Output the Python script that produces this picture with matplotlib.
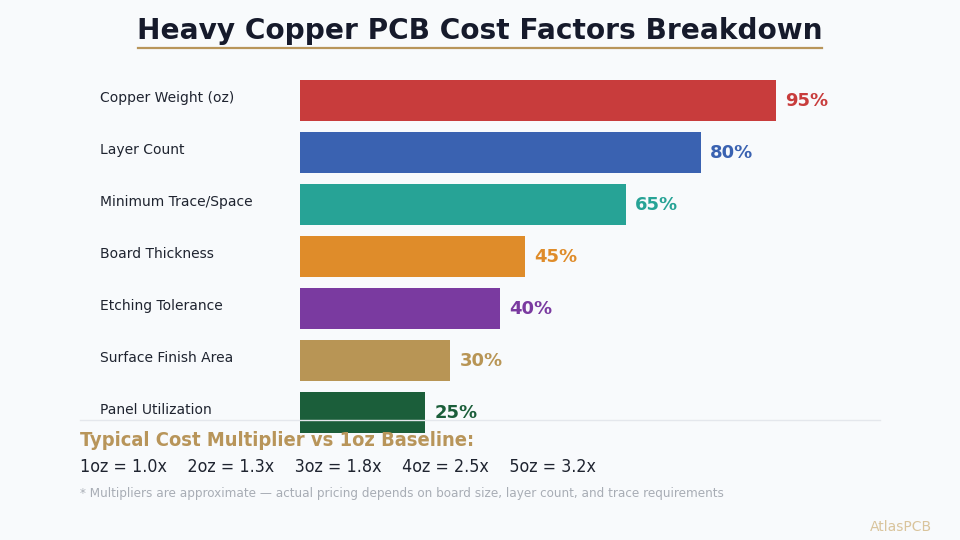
import matplotlib
matplotlib.use("Agg")
import matplotlib.pyplot as plt
from matplotlib.transforms import blended_transform_factory
from matplotlib.lines import Line2D

categories = ["Copper Weight (oz)", "Layer Count", "Minimum Trace/Space",
              "Board Thickness", "Etching Tolerance", "Surface Finish Area",
              "Panel Utilization"]
values = [95, 80, 65, 45, 40, 30, 25]
colors = ["#c83c3c", "#3a62b1", "#27a396", "#df8c2a", "#7a3aa0", "#b89555", "#1b5e3a"]
multipliers = ["1oz = 1.0x", "2oz = 1.3x", "3oz = 1.8x", "4oz = 2.5x", "5oz = 3.2x"]

W, H = 960, 540
bg = "#f8fafc"
gold = "#b8955a"

fig = plt.figure(figsize=(W / 100, H / 100), dpi=100, facecolor=bg)

def fx(px):
    return px / W

def fy(py):
    return 1 - py / H

ax = fig.add_axes([fx(300), fy(438.5), fx(801) - fx(300), (438.5 - 74.5) / H])
ax.set_facecolor("none")
ypos = list(range(len(categories)))
ax.barh(ypos, values, height=0.79, color=colors, zorder=2)
ax.set_xlim(0, 100)
ax.set_ylim(len(categories) - 0.5, -0.5)
ax.axis("off")

trans = blended_transform_factory(fig.transFigure, ax.transData)
for y, cat, v, c in zip(ypos, categories, values, colors):
    ax.text(fx(100), y - 0.04, cat, transform=trans, ha="left", va="center",
            fontsize=10, color="#1f2430")
    ax.annotate(f"{v}%", xy=(v, y), xytext=(6.5, 0), textcoords="offset points",
                ha="left", va="center", fontsize=13, fontweight="bold", color=c)

# Title
fig.text(0.5, fy(31), "Heavy Copper PCB Cost Factors Breakdown", ha="center", va="center",
         fontsize=20.2, fontweight="bold", color="#161a2b")
fig.add_artist(Line2D([fx(138), fx(822)], [fy(48), fy(48)], color=gold, lw=1.6))

# Separator
fig.add_artist(Line2D([fx(80), fx(880)], [fy(420), fy(420)], color="#e4e7ec", lw=1.0, zorder=5))

fig.text(fx(80), fy(441), "Typical Cost Multiplier vs 1oz Baseline:", ha="left", va="center",
         fontsize=14.4, fontweight="bold", color=gold, stretch="condensed")
fig.text(fx(80), fy(467), "    ".join(multipliers), ha="left", va="center",
         fontsize=12.8, color="#1f2430", stretch="condensed")
fig.text(fx(80), fy(493),
         "* Multipliers are approximate \u2014 actual pricing depends on board size, layer count, and trace requirements",
         ha="left", va="center", fontsize=9.6, color="#a8adb5", stretch="condensed")
fig.text(fx(932), fy(527), "AtlasPCB", ha="right", va="center", fontsize=10, color="#d9c49c")

fig.savefig("out.png", dpi=100, facecolor=bg)
